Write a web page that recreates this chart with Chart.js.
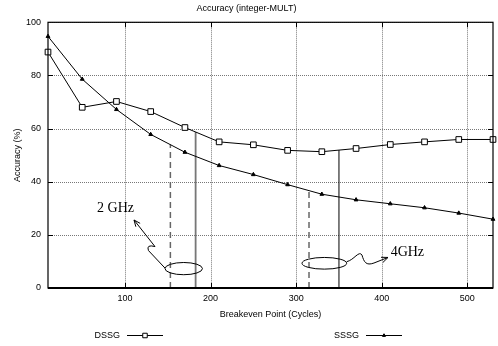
<!DOCTYPE html>
<html>
<head>
<meta charset="utf-8">
<script src="https://cdn.jsdelivr.net/npm/chart.js@4.4.0/dist/chart.umd.min.js"></script>
<style>
  html, body { margin: 0; padding: 0; background: #fff; }
  #wrap { width: 498px; height: 346px; }
</style>
</head>
<body>
<div id="wrap"><canvas id="chart" width="498" height="346"></canvas></div>
<script>
const X_TICKS = [100, 200, 300, 400, 500];
const CYCLES = [10, 50, 90, 130, 170, 210, 250, 290, 330, 370, 410, 450, 490, 530];
const DSSG = [88.8, 68, 70.2, 66.4, 60.4, 55, 53.9, 51.8, 51.3, 52.5, 54, 55, 55.9, 55.9];
const SSSG = [94.7, 78.6, 67.2, 57.8, 51.1, 46.1, 42.7, 38.9, 35.3, 33.2, 31.7, 30.2, 28.2, 25.9];

// breakeven markers: [x, top value]
const MARK_2GHZ_SSSG = [153, 54];
const MARK_2GHZ_DSSG = [182.5, 58.7];
const MARK_4GHZ_SSSG = [315, 36.7];
const MARK_4GHZ_DSSG = [350, 51.9];

const SANS = 'Liberation Sans, Arial, Helvetica, sans-serif';
const SERIF = 'Liberation Serif, Times New Roman, serif';

// annotations, in data units
const ELLIPSES = [
  { cx: 168.6, cy: 7.3, rx: 21.9, ry: 2.3 },
  { cx: 332.9, cy: 9.3, rx: 26.1, ry: 2.2 },
];
const ARROW_2GHZ = [[146.7, 7.5], [127.4, 14.1], [124.5, 16.5], [135.0, 15.6], [110.5, 25.6]];
const ARROW_4GHZ = [[359.0, 9.9], [367.6, 10.5], [373.4, 14.3], [376.9, 12.4],
                    [379.2, 9.8], [381.6, 8.3], [390.9, 9.4], [407.3, 11.5]];
const LABELS = [
  { text: '2 GHz', x: 88.9, y: 30.0, align: 'center' },
  { text: '4GHz', x: 410.4, y: 13.6, align: 'left' },
];

const pts = ys => CYCLES.map((x, i) => ({ x, y: ys[i] }));
const vline = (m, color, dash, width) => ({
  label: '', data: [{ x: m[0], y: 0 }, { x: m[0], y: m[1] }],
  borderColor: color, borderDash: dash, borderWidth: width,
  pointRadius: 0, fill: false, order: 5,
});

// dotted gnuplot grid, from the scale ticks
const dotGrid = {
  id: 'dotGrid',
  beforeDatasetsDraw(chart) {
    const { ctx, chartArea: a, scales } = chart;
    ctx.save();
    ctx.strokeStyle = '#777';
    ctx.lineWidth = 1;
    ctx.setLineDash([1, 1]);
    ctx.beginPath();
    for (const t of scales.x.ticks) {
      const px = Math.round(scales.x.getPixelForValue(t.value)) + 0.5;
      ctx.moveTo(px, a.top); ctx.lineTo(px, a.bottom);
    }
    for (const t of scales.y.ticks) {
      const py = Math.round(scales.y.getPixelForValue(t.value)) + 0.5;
      ctx.moveTo(a.left, py); ctx.lineTo(a.right, py);
    }
    ctx.stroke();
    ctx.restore();
  }
};

const frame = {
  id: 'frame',
  afterDraw(chart) {
    const { ctx, chartArea: a, scales } = chart;
    ctx.save();
    ctx.strokeStyle = '#000';
    ctx.lineWidth = 1.2;
    ctx.strokeRect(a.left, a.top, a.right - a.left, a.bottom - a.top);
    ctx.lineWidth = 2;
    ctx.beginPath();
    ctx.moveTo(a.left, a.bottom); ctx.lineTo(a.right, a.bottom);
    ctx.stroke();
    ctx.lineWidth = 1;
    ctx.beginPath();
    for (const v of X_TICKS) {
      const px = Math.round(scales.x.getPixelForValue(v)) + 0.5;
      ctx.moveTo(px, a.bottom); ctx.lineTo(px, a.bottom - 5);
      ctx.moveTo(px, a.top); ctx.lineTo(px, a.top + 5);
    }
    for (let v = 20; v < 100; v += 20) {
      const py = Math.round(scales.y.getPixelForValue(v)) + 0.5;
      ctx.moveTo(a.left, py); ctx.lineTo(a.left + 5, py);
      ctx.moveTo(a.right, py); ctx.lineTo(a.right - 5, py);
    }
    ctx.stroke();
    ctx.restore();
  }
};

const notes = {
  id: 'notes',
  afterDraw(chart) {
    const { ctx, scales } = chart;
    const px = v => scales.x.getPixelForValue(v);
    const py = v => scales.y.getPixelForValue(v);
    ctx.save();
    ctx.strokeStyle = '#000';
    ctx.lineWidth = 1;
    for (const e of ELLIPSES) {
      const cx = px(e.cx), cy = py(e.cy);
      ctx.beginPath();
      ctx.ellipse(cx, cy, px(e.cx + e.rx) - cx, cy - py(e.cy + e.ry), 0, 0, Math.PI * 2);
      ctx.stroke();
    }
    // 2 GHz arrow: line, hook, line
    let p = ARROW_2GHZ.map(([x, y]) => [px(x), py(y)]);
    ctx.beginPath();
    ctx.moveTo(p[0][0], p[0][1]);
    ctx.lineTo(p[1][0], p[1][1]);
    ctx.quadraticCurveTo(p[2][0], p[2][1], p[3][0], p[3][1]);
    ctx.lineTo(p[4][0], p[4][1]);
    ctx.stroke();
    arrowHead(ctx, p[3], p[4]);
    // 4 GHz arrow: wave then line
    p = ARROW_4GHZ.map(([x, y]) => [px(x), py(y)]);
    ctx.beginPath();
    ctx.moveTo(p[0][0], p[0][1]);
    ctx.bezierCurveTo(p[1][0], p[1][1], p[2][0], p[2][1], p[3][0], p[3][1]);
    ctx.bezierCurveTo(p[4][0], p[4][1], p[5][0], p[5][1], p[6][0], p[6][1]);
    ctx.lineTo(p[7][0], p[7][1]);
    ctx.stroke();
    arrowHead(ctx, p[6], p[7]);

    ctx.fillStyle = '#000';
    ctx.font = '14px ' + SERIF;
    ctx.textBaseline = 'middle';
    for (const l of LABELS) {
      ctx.textAlign = l.align;
      ctx.fillText(l.text, px(l.x), py(l.y));
    }
    ctx.restore();
  }
};

function arrowHead(ctx, from, to) {
  const ang = Math.atan2(to[1] - from[1], to[0] - from[0]);
  const len = 7, spread = 0.4;
  ctx.beginPath();
  ctx.moveTo(to[0] - len * Math.cos(ang - spread), to[1] - len * Math.sin(ang - spread));
  ctx.lineTo(to[0], to[1]);
  ctx.lineTo(to[0] - len * Math.cos(ang + spread), to[1] - len * Math.sin(ang + spread));
  ctx.stroke();
}

// gnuplot style key: text first, then a line sample with the marker
const key = {
  id: 'key',
  afterDraw(chart) {
    const { ctx } = chart;
    const y = 335.5;
    const items = [[0, 120], [1, 359]];
    ctx.save();
    ctx.font = '9px ' + SANS;
    ctx.textAlign = 'right';
    ctx.textBaseline = 'middle';
    for (const [i, tx] of items) {
      const ds = chart.data.datasets[i];
      ctx.fillStyle = '#000';
      ctx.fillText(ds.label, tx, y);
      ctx.strokeStyle = '#000';
      ctx.lineWidth = 1;
      ctx.beginPath();
      ctx.moveTo(tx + 7, y); ctx.lineTo(tx + 43, y);
      ctx.stroke();
      ctx.fillStyle = ds.pointBackgroundColor;
      ctx.strokeStyle = ds.pointBorderColor;
      Chart.helpers.drawPoint(ctx, {
        pointStyle: ds.pointStyle, radius: ds.pointRadius * 0.8, borderWidth: 1, rotation: 0
      }, tx + 25, y);
    }
    ctx.restore();
  }
};

new Chart(document.getElementById('chart').getContext('2d'), {
  type: 'line',
  data: {
    datasets: [
      { label: 'DSSG', data: pts(DSSG), borderColor: '#000', borderWidth: 1,
        pointStyle: 'rect', pointRadius: 4, pointBackgroundColor: '#fff',
        pointBorderColor: '#000', pointBorderWidth: 1, tension: 0, clip: 8, order: 1 },
      { label: 'SSSG', data: pts(SSSG), borderColor: '#000', borderWidth: 1,
        pointStyle: 'triangle', pointRadius: 2.2, pointBackgroundColor: '#000',
        pointBorderColor: '#000', pointBorderWidth: 1, tension: 0, clip: 8, order: 2 },
      vline(MARK_2GHZ_SSSG, '#666', [6, 4], 1.5),
      vline(MARK_2GHZ_DSSG, '#777', [], 1.8),
      vline(MARK_4GHZ_SSSG, '#666', [6, 4], 1.5),
      vline(MARK_4GHZ_DSSG, '#000', [], 1),
    ]
  },
  options: {
    responsive: false,
    animation: false,
    layout: { padding: { left: 0, right: 5, top: 0, bottom: 26 } },
    plugins: {
      legend: { display: false },
      tooltip: { enabled: false },
      title: {
        display: true, text: 'Accuracy (integer-MULT)', color: '#000',
        font: { family: SANS, size: 9, weight: 'normal' },
        padding: { top: 3, bottom: 8.5 }
      }
    },
    scales: {
      x: {
        type: 'linear', min: 10, max: 530,
        afterBuildTicks: s => { s.ticks = X_TICKS.map(v => ({ value: v })); },
        afterFit: s => { s.height = 32; },
        grid: { display: false, drawTicks: false },
        border: { display: false },
        ticks: { color: '#000', padding: 5, font: { family: SANS, size: 9 } },
        title: { display: true, text: 'Breakeven Point (Cycles)', color: '#000',
                 font: { family: SANS, size: 9 }, padding: { top: 0, bottom: 0 } }
      },
      y: {
        min: 0, max: 100,
        ticks: { stepSize: 20, color: '#000', padding: 7, font: { family: SANS, size: 9 } },
        afterFit: s => { s.width = 48; },
        grid: { display: false, drawTicks: false },
        border: { display: false },
        title: { display: true, text: 'Accuracy (%)', color: '#000',
                 font: { family: SANS, size: 9 }, padding: { top: 12.6, bottom: 0 } }
      }
    }
  },
  plugins: [dotGrid, frame, notes, key]
});
</script>
</body>
</html>
